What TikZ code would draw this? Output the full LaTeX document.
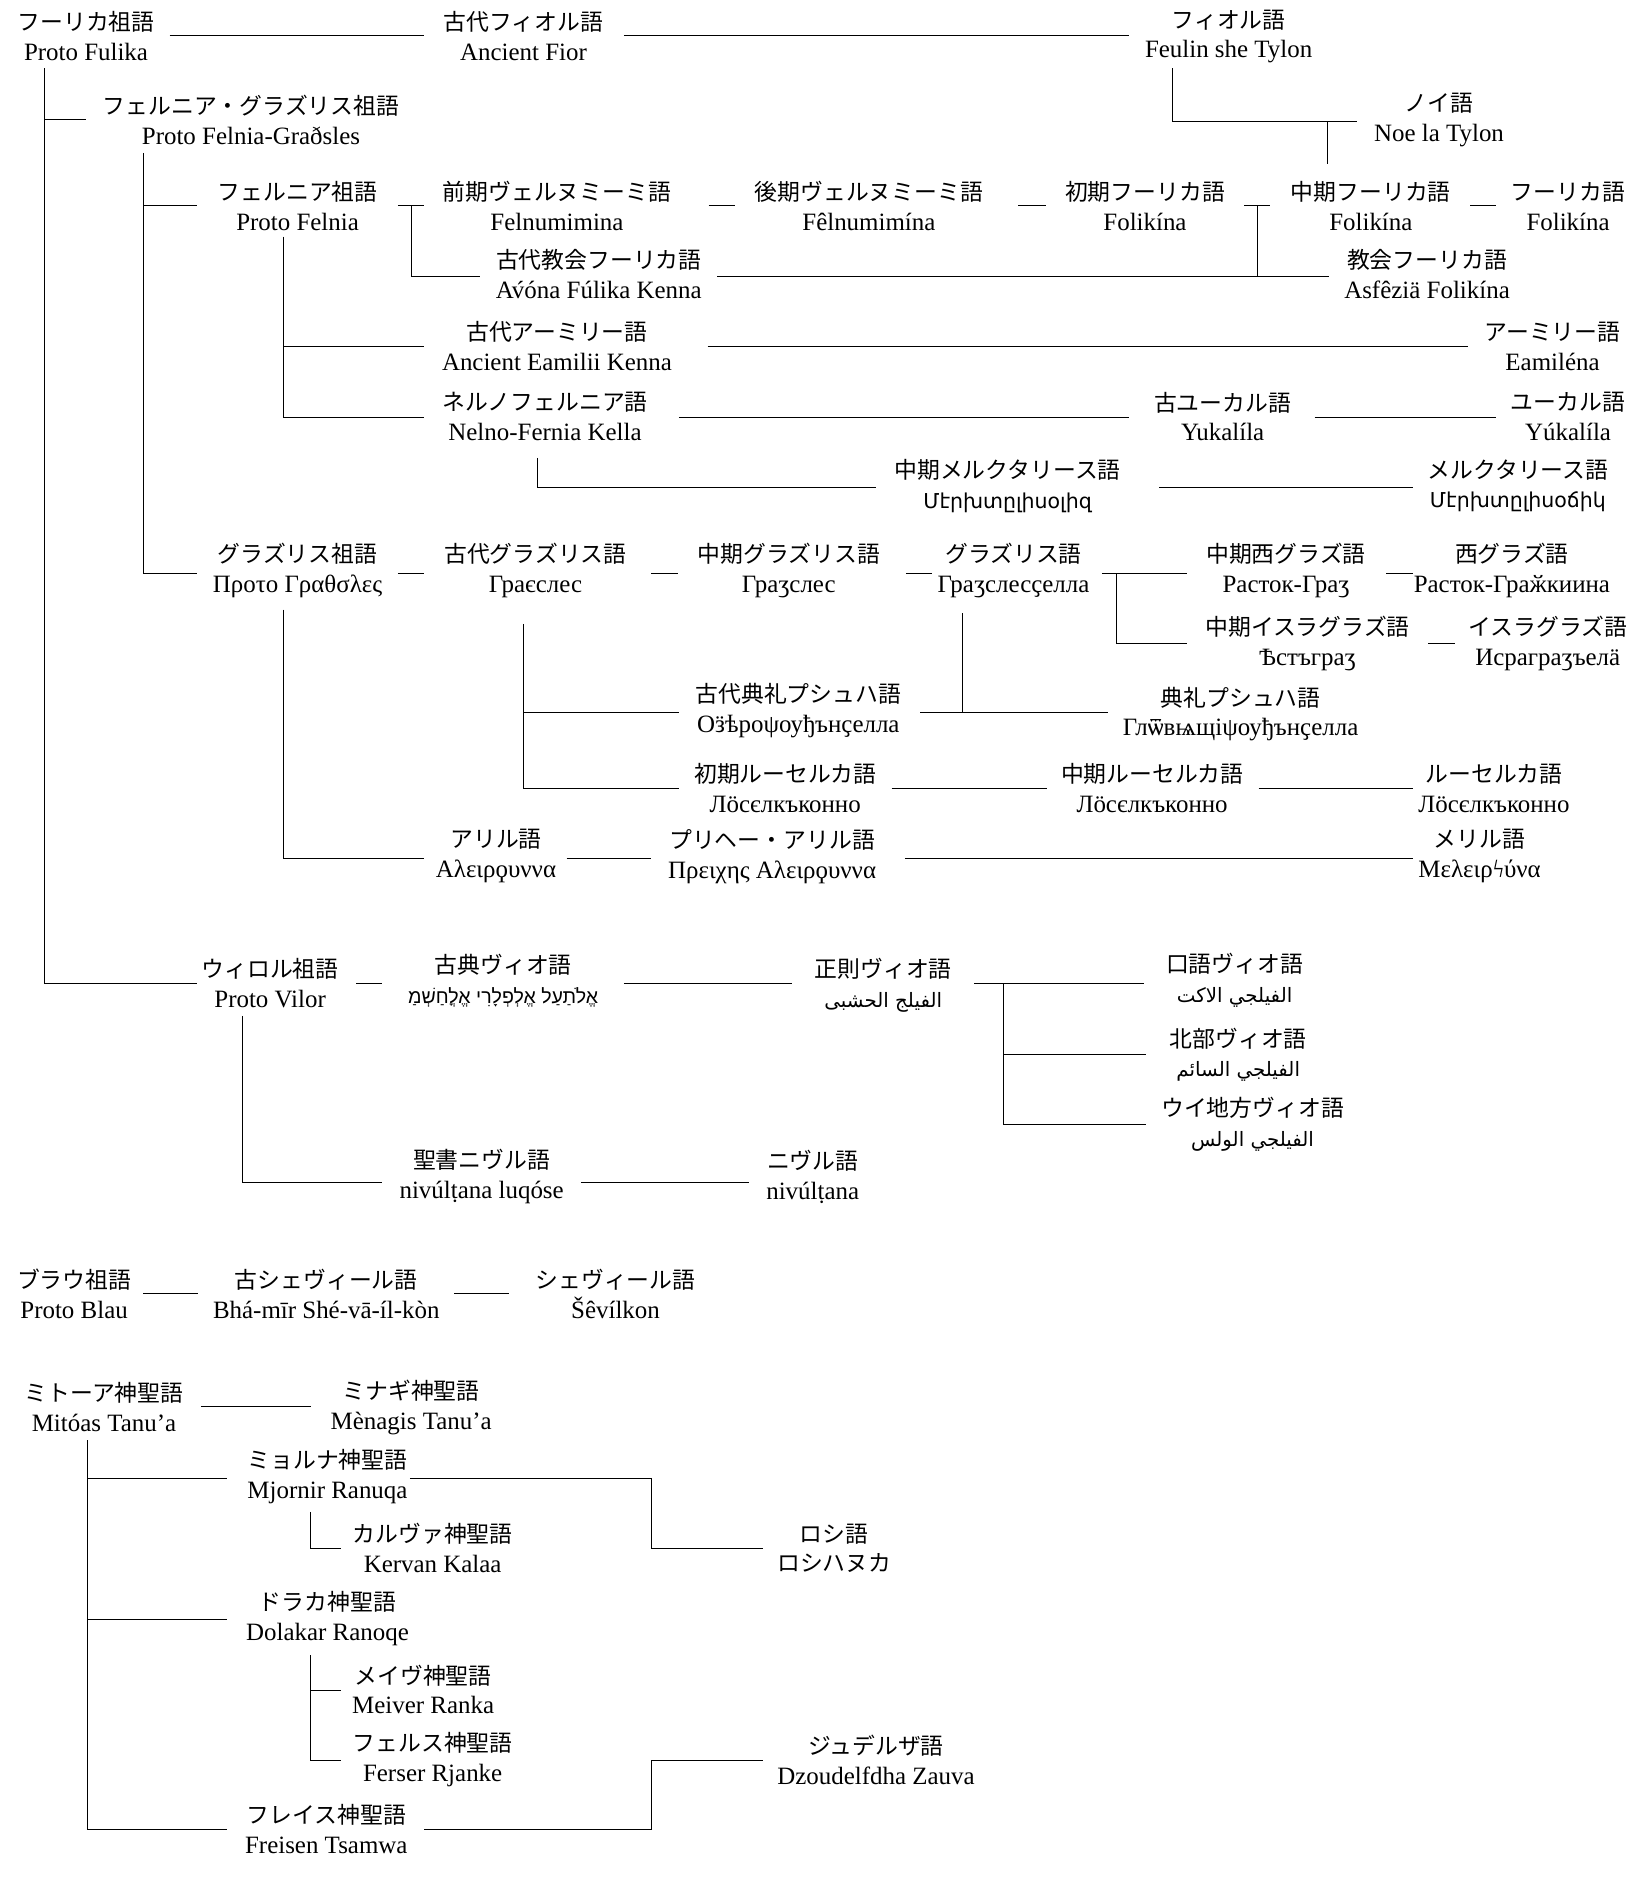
\documentclass[tikz,border=0pt]{standalone}
\usepackage{fontspec}
\setmainfont{Liberation Serif}[Scale=1.07]
\newfontfamily\jp{Noto Sans CJK JP}[Scale=0.98]
\newfontfamily\arm{DejaVu Sans}[Scale=0.88]
\newfontfamily\heb[Script=Hebrew]{Liberation Sans}[Scale=0.84]
\newfontfamily\arab[Script=Arabic]{DejaVu Sans}[Scale=0.85]
\TeXXeTstate=1
\newcommand{\lang}[5]{\node[lg] (#1) at (#2,#3+12.5) {{\jp #4}\\#5};}
\begin{document}
\begin{tikzpicture}[x=1pt,y=-1pt,
  lg/.style={align=center,font=\fontsize{19.5}{25}\selectfont,inner sep=0pt},
  ln/.style={line width=0.8pt}]
\useasboundingbox (0,0) rectangle (1380,1573);
\lang{pfu}{72}{18}{フーリカ祖語}{Proto Fulika}
\lang{af}{438}{18}{古代フィオル語}{Ancient Fior}
\lang{fst}{1028}{18}{フィオル語}{Feulin she Tylon}
\lang{nlt}{1204}{88}{ノイ語}{Noe la Tylon}
\lang{pfg}{210}{88}{フェルニア・グラズリス祖語}{Proto Felnia-Graðsles}
\lang{pf}{249}{160}{フェルニア祖語}{Proto Felnia}
\lang{fn1}{466}{160}{前期ヴェルヌミーミ語}{Felnumimina}
\lang{fn2}{727}{160}{後期ヴェルヌミーミ語}{Fêlnumimína}
\lang{fo1}{958}{160}{初期フーリカ語}{Folikína}
\lang{fo2}{1147}{160}{中期フーリカ語}{Folikína}
\lang{fo3}{1312}{160}{フーリカ語}{Folikína}
\lang{ack}{501}{217}{古代教会フーリカ語}{Av́óna Fúlika Kenna}
\lang{ck}{1194}{217}{教会フーリカ語}{Asfêziä Folikína}
\lang{aek}{466}{277}{古代アーミリー語}{Ancient Eamilii Kenna}
\lang{em}{1299}{277}{アーミリー語}{Eamiléna}
\lang{nf}{456}{336}{ネルノフェルニア語}{Nelno-Fernia Kella}
\lang{yk1}{1023}{336}{古ユーカル語}{Yukalíla}
\lang{yk2}{1312}{336}{ユーカル語}{Yúkalíla}
\lang{mk1}{843}{394}{中期メルクタリース語}{{\arm Մէրխտըլիսօլիզ}}
\lang{mk2}{1270}{394}{メルクタリース語}{{\arm Մէրխտըլիսօճիկ}}
\lang{pg}{249}{465}{グラズリス祖語}{Προτο Γραθσλες}
\lang{g1}{448}{465}{古代グラズリス語}{Граєслес}
\lang{g2}{660}{465}{中期グラズリス語}{Граӡслес}
\lang{g3}{848}{465}{グラズリス語}{Граӡслесҫелла}
\lang{wg1}{1076}{465}{中期西グラズ語}{Расток-Граӡ}
\lang{wg2}{1265}{465}{西グラズ語}{Расток-Граӂкиина}
\lang{ig1}{1094}{526}{中期イスラグラズ語}{Ѣстъграӡ}
\lang{ig2}{1295}{526}{イスラグラズ語}{Исраграӡъелӓ}
\lang{ps1}{668}{582}{古代典礼プシュハ語}{Оӟѣроψоуђънҫелла}
\lang{ps2}{1038}{585}{典礼プシュハ語}{Глѿвѩщіψоуђънҫелла}
\lang{rs1}{657}{647}{初期ルーセルカ語}{Лӧсєлкъконно}
\lang{rs2}{964}{647}{中期ルーセルカ語}{Лӧсєлкъконно}
\lang{rs3}{1250}{647}{ルーセルカ語}{Лӧсєлкъконно}
\lang{ar1}{415}{704}{アリル語}{Αλειρϙυννα}
\lang{ar2}{646}{704}{プリヘー・アリル語}{Πρειχης Αλειρϙυννα}
\lang{ar3}{1238}{704}{メリル語}{Μελειρϟύνα}
\lang{pv}{226}{810}{ウィロル祖語}{Proto Vilor}
\lang{cv}{421}{808}{古典ヴィオ語}{{\heb\beginR אֱלֹתַעַל אֱלְפְלָרִי אֱלֳחַשְׁמַ\endR}}
\lang{sv}{739}{812}{正則ヴィオ語}{{\arab\beginR الفيلج الحشبى\endR}}
\lang{v1}{1033}{808}{口語ヴィオ語}{{\arab\beginR الفيلجي الاكت\endR}}
\lang{v2}{1036}{870}{北部ヴィオ語}{{\arab\beginR الفيلجي السائم\endR}}
\lang{v3}{1048}{928}{ウイ地方ヴィオ語}{{\arab\beginR الفيلجي الولس\endR}}
\lang{nv1}{403}{972}{聖書ニヴル語}{nivúlṭana luqóse}
\lang{nv2}{680}{972}{ニヴル語}{nivúlṭana}
\lang{pb}{62}{1070}{ブラウ祖語}{Proto Blau}
\lang{sh1}{273}{1070}{古シェヴィール語}{Bhá-mīr Shé-vā-íl-kòn}
\lang{sh2}{515}{1070}{シェヴィール語}{Šêvílkon}
\lang{mt}{87}{1165}{ミトーア神聖語}{Mitóas Tanu’a}
\lang{mn}{344}{1165}{ミナギ神聖語}{Mènagis Tanu’a}
\lang{mj}{274}{1223}{ミョルナ神聖語}{Mjornir Ranuqa}
\lang{kv}{362}{1283}{カルヴァ神聖語}{Kervan Kalaa}
\lang{rsh}{698}{1283}{ロシ語}{{\jp ロシハヌカ}}
\lang{dr}{274}{1342}{ドラカ神聖語}{Dolakar Ranoqe}
\lang{mv}{354}{1401}{メイヴ神聖語}{Meiver Ranka}
\lang{fr}{362}{1460}{フェルス神聖語}{Ferser Rjanke}
\lang{dz}{733}{1460}{ジュデルザ語}{Dzoudelfdha Zauva}
\lang{fs}{273}{1518}{フレイス神聖語}{Freisen Tsamwa}
\begin{scope}[ln]
\draw (142,30)--(355,30) (522,30)--(945,30);
\draw (37,57)--(37,823)--(165,823) (37,100)--(72,100);
\draw (981,57)--(981,102)--(1135,102) (1111,102)--(1111,137);
\draw (120,128)--(120,480)--(165,480) (120,172)--(165,172);
\draw (333,172)--(355,172) (593,172)--(615,172) (852,172)--(875,172) (1041,172)--(1063,172) (1230,172)--(1252,172);
\draw (344,172)--(344,231)--(402,231) (600,231)--(1112,231) (1052,172)--(1052,231);
\draw (237,198)--(237,349)--(355,349) (237,290)--(355,290) (592,290)--(1228,290);
\draw (568,349)--(945,349) (1100,349)--(1252,349);
\draw (450,383)--(450,408)--(733,408) (970,408)--(1182,408);
\draw (333,480)--(355,480) (545,480)--(567,480) (758,480)--(780,480) (922,480)--(993,480) (1160,480)--(1182,480);
\draw (934,480)--(934,538)--(993,538) (1195,538)--(1217,538);
\draw (438,522)--(438,660)--(568,660) (438,596)--(568,596) (770,596)--(927,596) (805,513)--(805,596);
\draw (746,660)--(876,660) (1053,660)--(1182,660);
\draw (237,510)--(237,718)--(355,718) (474,718)--(545,718) (757,718)--(1182,718);
\draw (298,823)--(320,823) (522,823)--(663,823) (815,823)--(957,823) (840,823)--(840,941)--(959,941) (840,882)--(959,882);
\draw (203,850)--(203,989)--(320,989) (486,989)--(627,989);
\draw (120,1082)--(166,1082) (380,1082)--(426,1082);
\draw (168,1177)--(260,1177);
\draw (73,1205)--(73,1531)--(190,1531) (73,1237)--(190,1237) (73,1355)--(190,1355);
\draw (260,1265)--(260,1296)--(285,1296) (343,1237)--(545,1237)--(545,1296)--(638,1296);
\draw (260,1385)--(260,1473)--(285,1473) (260,1414)--(285,1414);
\draw (355,1531)--(545,1531)--(545,1473)--(638,1473);
\end{scope}
\end{tikzpicture}
\end{document}
